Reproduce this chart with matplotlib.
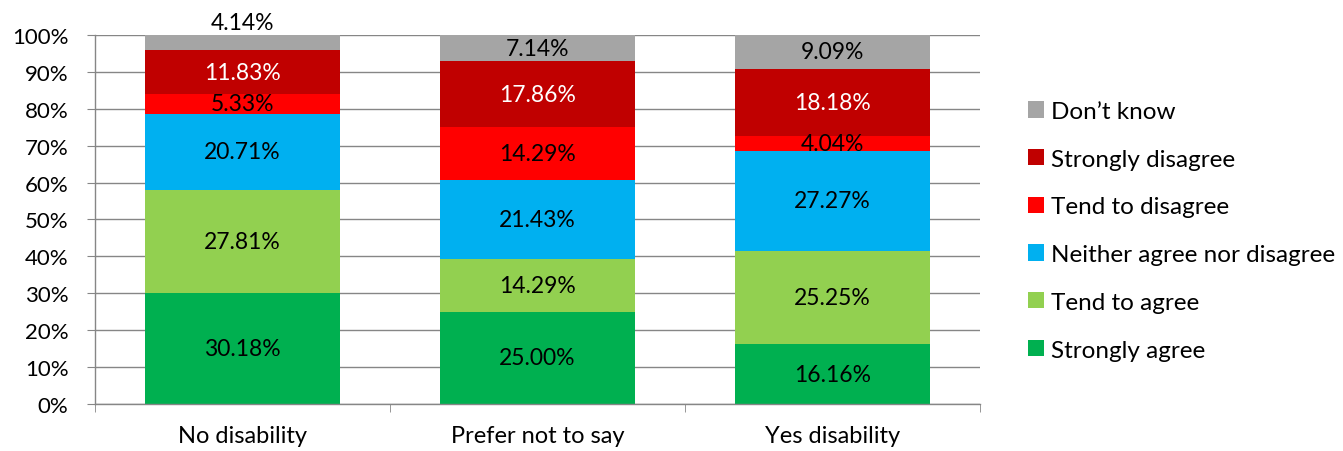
import matplotlib.pyplot as plt
import numpy as np

plt.rcParams['font.family'] = ['Lato', 'DejaVu Sans']

groups = ["No disability", "Prefer not to say", "Yes disability"]
answers = ["Strongly agree", "Tend to agree", "Neither agree nor disagree",
           "Tend to disagree", "Strongly disagree", "Don\u2019t know"]
strongly_agree = [30.18, 25.00, 16.16]
tend_agree = [27.81, 14.29, 25.25]
neither = [20.71, 21.43, 27.27]
tend_disagree = [5.33, 14.29, 4.04]
strongly_disagree = [11.83, 17.86, 18.18]
dont_know = [4.14, 7.14, 9.09]

series = [strongly_agree, tend_agree, neither, tend_disagree, strongly_disagree, dont_know]
colors = ["#00B050", "#92D050", "#00B0F0", "#FF0000", "#C00000", "#A5A5A5"]
text_colors = ["black", "black", "black", "black", "white", "black"]

fig = plt.figure(figsize=(13.43, 4.52), dpi=100)
ax = fig.add_axes([0.0707, 0.104, 0.659, 0.8164])

x = np.arange(len(groups))
bottom = np.zeros(len(groups))
handles = []
for vals, col, tc, name in zip(series, colors, text_colors, answers):
    vals = np.array(vals)
    b = ax.bar(x, vals, 0.66, bottom=bottom, color=col, label=name, zorder=2)
    handles.append(b)
    for i, v in enumerate(vals):
        y = bottom[i] + v / 2
        if name == "Don\u2019t know" and v < 5:
            # too thin to hold its label: put it just over the bar
            y = bottom[i] + v + 3.4
        ax.text(x[i], y, f"{v:.2f}%", ha="center", va="center",
                color=tc, fontsize=16.5, zorder=3, clip_on=False)
    bottom += vals

ax.set_xlim(-0.5, 2.5)
ax.set_ylim(0, 100)
ax.set_yticks(np.arange(0, 101, 10))
ax.set_yticklabels([f"{t}%" for t in range(0, 101, 10)], fontsize=16)
ax.set_xticks(x)
ax.set_xticklabels(groups, fontsize=17)
ax.set_xticks([-0.5, 0.5, 1.5, 2.5], minor=True)
ax.tick_params(axis="x", which="major", length=0, pad=15)
ax.tick_params(axis="x", which="minor", length=6, color="#868686", direction="out")
ax.tick_params(axis="y", length=6, color="#868686", direction="out", pad=13)
ax.grid(axis="y", color="#868686", linewidth=1, zorder=0)
for s in ["top", "right"]:
    ax.spines[s].set_visible(False)
for s in ["left", "bottom"]:
    ax.spines[s].set_color("#868686")
    ax.spines[s].set_linewidth(1)

fig.legend(handles[::-1], answers[::-1], loc="upper left",
           bbox_to_anchor=(0.7585, 0.796), frameon=False, fontsize=17.5,
           handlelength=0.65, handleheight=0.65, handletextpad=0.3,
           labelspacing=1.1, borderaxespad=0)

fig.savefig("out.png", dpi=100)
